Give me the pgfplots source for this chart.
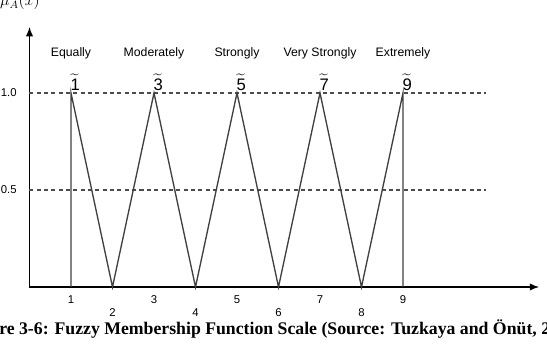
\documentclass[border=0pt]{standalone}
\usepackage{fontspec}
\setmainfont{Liberation Sans}
\newfontfamily\capfont{Liberation Serif}
\usepackage{amsmath}
\usepackage{pgfplots}
\pgfplotsset{compat=1.18}
\usetikzlibrary{arrows.meta}
\tikzset{
  catlab/.style={anchor=base, font=\fontsize{9.2}{11}\selectfont},
  tnum/.style={anchor=base, inner sep=0pt, font=\fontsize{12.5}{14}\selectfont},
}
\begin{document}
\begin{tikzpicture}[x=0.75pt,y=0.75pt]
\useasboundingbox (0,0) rectangle (547,357);
\clip (0,0) rectangle (547,357);
\begin{axis}[
  x=31.125pt, y=145.5pt,
  anchor=origin, at={(22.125pt,52.5pt)},
  xmin=0, xmax=12.28, ymin=0, ymax=1.34,
  axis lines=left,
  axis line style={line width=0.9pt, -{Latex[length=7pt,width=5.5pt]}},
  xtick={1,3,5,7,9},
  extra x ticks={2,4,6,8},
  extra x tick style={xticklabel style={yshift=-9.75pt}},
  xticklabel style={anchor=center, yshift=-9.75pt},
  ytick={0.5,1}, yticklabels={0.5,1.0},
  yticklabel style={anchor=east, inner sep=0pt, xshift=-9.4pt},
  major tick length=0pt,
  tick label style={font=\fontsize{8.5}{10}\selectfont},
  /pgf/number format/assume math mode=true,
  clip=false,
]
\addplot[black!70, line width=0.8pt, dash pattern=on 3pt off 2.5pt] coordinates {(0,1) (11,1)};
\addplot[black!70, line width=0.8pt, dash pattern=on 3pt off 2.5pt] coordinates {(0,0.5) (11,0.5)};
\addplot[black!75, line width=1pt] coordinates {(1,0) (1,1) (2,0) (3,1) (4,0) (5,1) (6,0) (7,1) (8,0) (9,1) (9,0)};
\node[catlab] at (axis cs:1,1.19) {Equally};
\node[catlab] at (axis cs:3,1.19) {Moderately};
\node[catlab] at (axis cs:5,1.19) {Strongly};
\node[catlab] at (axis cs:7,1.19) {Very Strongly};
\node[catlab] at (axis cs:9,1.19) {Extremely};
\node[tnum] at (axis cs:1.1,1.015) {$\widetilde{\text{1}}$};
\node[tnum] at (axis cs:3.1,1.015) {$\widetilde{\text{3}}$};
\node[tnum] at (axis cs:5.1,1.015) {$\widetilde{\text{5}}$};
\node[tnum] at (axis cs:7.1,1.015) {$\widetilde{\text{7}}$};
\node[tnum] at (axis cs:9.1,1.015) {$\widetilde{\text{9}}$};
\end{axis}
\node[anchor=base] at (20,351) {\fontsize{12}{14}\selectfont$\mu_A(x)$};
\node[anchor=base west, inner sep=0pt, font=\capfont\bfseries\fontsize{13.3}{15}\selectfont] at (-1,22) {\llap{Figu}re 3-6: Fuzzy Membership Function Scale (Source: Tuzkaya and Önüt, 2008)};
\end{tikzpicture}
\end{document}
